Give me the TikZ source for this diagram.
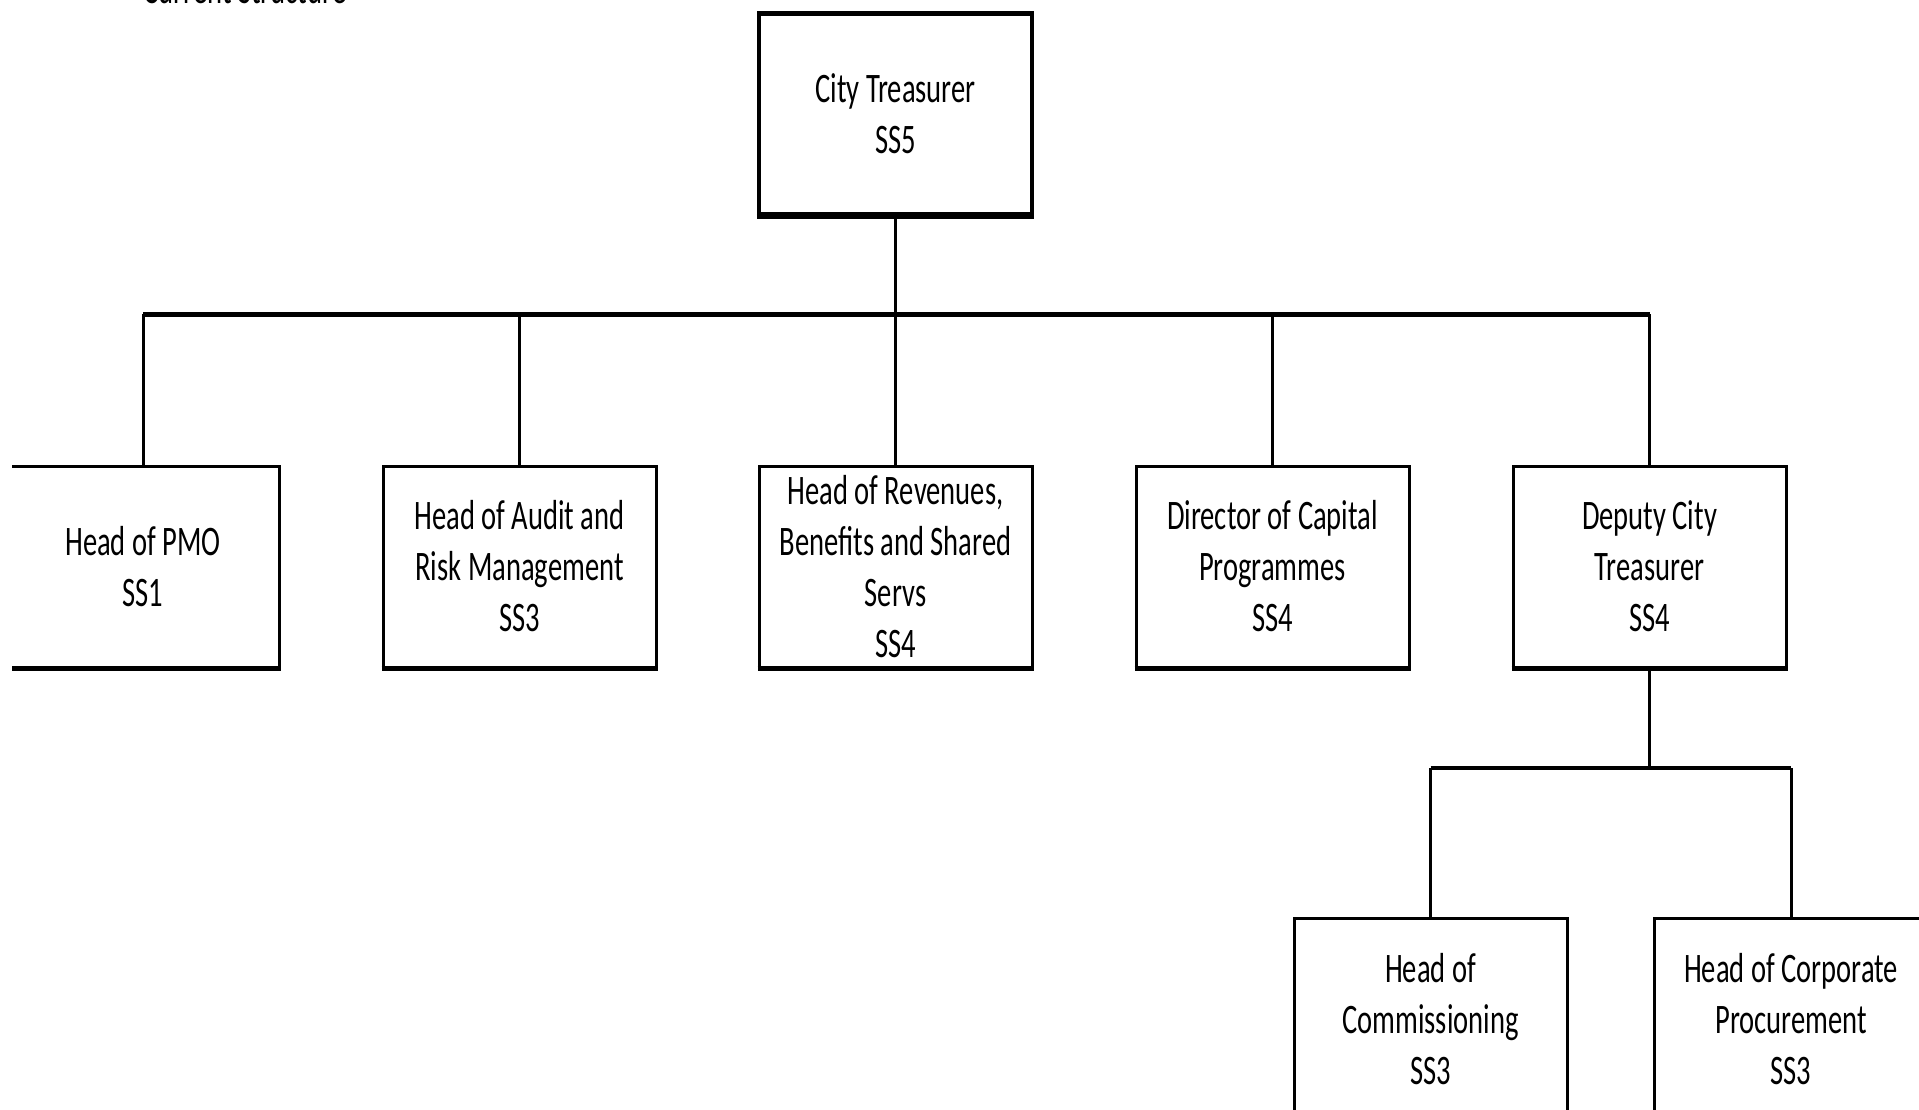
\documentclass[tikz,border=0pt]{standalone}
\usepackage{fontspec}
\setmainfont{Carlito}[FakeStretch=0.68]
\begin{document}
\begin{tikzpicture}[x=1pt,y=-1pt,
  box/.style={draw=black, line width=3pt, fill=white, rectangle, inner sep=0pt,
    minimum width=273pt, minimum height=201pt, align=center,
    font=\fontsize{42}{51}\selectfont},
  topbox/.style={box, line width=4.5pt},
  conn/.style={draw=black, line width=3pt},
  bus/.style={draw=black, line width=5pt}]
\useasboundingbox (0,0) rectangle (1919,1110);
\clip (12,0) rectangle (1919,1110);
\fill[white] (0,0) rectangle (1919,1110);
\node[anchor=base west, font=\fontsize{42}{51}\selectfont] (title) at (140,4) {Current Structure};
\coordinate (b1) at (0,314);
\coordinate (b2) at (0,768);
% nodes
\node[topbox] (ct) at (895.5,114) {City Treasurer\\SS5};
\node[box] (pmo) at (143,566.5) {Head of PMO\\SS1};
\node[box] (audit) at (519.5,566.5) {Head of Audit and\\Risk Management\\SS3};
\node[box] (rev) at (895.5,566.5) {Head of Revenues,\\Benefits and Shared\\Servs\\SS4};
\node[box] (dir) at (1272.5,566.5) {Director of Capital\\Programmes\\SS4};
\node[box] (dep) at (1649.5,566.5) {Deputy City\\Treasurer\\SS4};
\node[box] (com) at (1430.5,1019) {Head of\\Commissioning\\SS3};
\node[box] (proc) at (1791,1019) {Head of Corporate\\Procurement\\SS3};
% connectors
\draw[conn] (ct.south) -- (rev.north);
\draw[bus] (pmo.north |- b1) -- (dep.north |- b1);
\foreach \n in {pmo,audit,dir,dep} {\draw[conn] (\n.north |- b1) -- (\n.north);}
\draw[conn] (dep.south) -- (dep.south |- b2);
\draw[bus, line width=4pt] (com.north |- b2) -- (proc.north |- b2);
\foreach \n in {com,proc} {\draw[conn] (\n.north |- b2) -- (\n.north);}
% heavier bottom edges
\foreach \n in {pmo,audit,rev,dir,dep} {\draw[line width=5pt] (\n.south west) -- (\n.south east);}
\draw[line width=5pt] (ct.south west) -- (ct.south east);
\end{tikzpicture}
\end{document}
